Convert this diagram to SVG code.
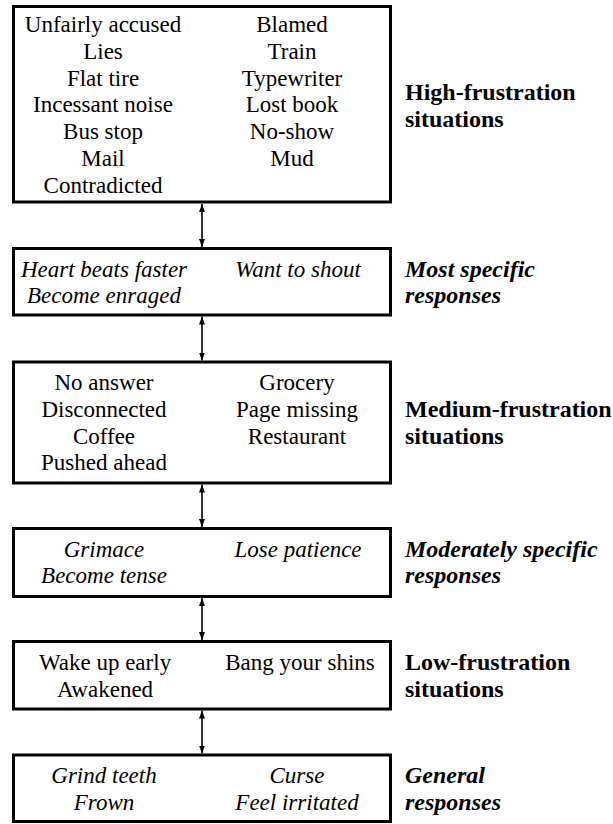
<svg xmlns="http://www.w3.org/2000/svg" width="613" height="824" viewBox="0 0 613 824">
  <defs>
    <marker id="head" markerUnits="userSpaceOnUse" viewBox="0 0 8 6" refX="8" refY="3" markerWidth="8" markerHeight="6" orient="auto-start-reverse">
      <path d="M0,0 L8,3 L0,6 z" fill="#000"/>
    </marker>
  </defs>
  <rect width="613" height="824" fill="#fff"/>

  <g id="high-frustration">
    <rect x="13.5" y="6.5" width="377" height="195.5" fill="#fff" stroke="#000" stroke-width="3"/>
    <g font-size="23" font-family="Liberation Serif" text-anchor="middle">
      <text x="103" y="32">Unfairly accused</text>
      <text x="103" y="58.8">Lies</text>
      <text x="103" y="85.6">Flat tire</text>
      <text x="103" y="112.4">Incessant noise</text>
      <text x="103" y="139.2">Bus stop</text>
      <text x="103" y="166">Mail</text>
      <text x="103" y="192.8">Contradicted</text>
      <text x="292" y="32">Blamed</text>
      <text x="292" y="58.8">Train</text>
      <text x="292" y="85.6">Typewriter</text>
      <text x="292" y="112.4">Lost book</text>
      <text x="292" y="139.2">No-show</text>
      <text x="292" y="166">Mud</text>
    </g>
    <text font-size="24" font-family="Liberation Serif" font-weight="bold" x="405" y="100">High-frustration</text>
    <text font-size="24" font-family="Liberation Serif" font-weight="bold" x="405" y="127">situations</text>
  </g>

  <g id="most-specific">
    <rect x="13.5" y="248.5" width="377" height="66.5" fill="#fff" stroke="#000" stroke-width="3"/>
    <text font-size="23" font-family="Liberation Serif" font-style="italic" text-anchor="middle" x="104" y="277">Heart beats faster</text>
    <text font-size="23" font-family="Liberation Serif" font-style="italic" text-anchor="middle" x="104" y="303">Become enraged</text>
    <text font-size="23" font-family="Liberation Serif" font-style="italic" text-anchor="middle" x="298" y="277">Want to shout</text>
    <text font-size="24" font-family="Liberation Serif" font-style="italic" font-weight="bold" x="405" y="277">Most specific</text>
    <text font-size="24" font-family="Liberation Serif" font-style="italic" font-weight="bold" x="405" y="303">responses</text>
  </g>

  <g id="medium-frustration">
    <rect x="13.5" y="362" width="377" height="121" fill="#fff" stroke="#000" stroke-width="3"/>
    <text font-size="23" font-family="Liberation Serif" text-anchor="middle" x="104" y="390">No answer</text>
    <text font-size="23" font-family="Liberation Serif" text-anchor="middle" x="104" y="417">Disconnected</text>
    <text font-size="23" font-family="Liberation Serif" text-anchor="middle" x="104" y="443.5">Coffee</text>
    <text font-size="23" font-family="Liberation Serif" text-anchor="middle" x="104" y="470">Pushed ahead</text>
    <text font-size="23" font-family="Liberation Serif" text-anchor="middle" x="297" y="390">Grocery</text>
    <text font-size="23" font-family="Liberation Serif" text-anchor="middle" x="297" y="417">Page missing</text>
    <text font-size="23" font-family="Liberation Serif" text-anchor="middle" x="297" y="443.5">Restaurant</text>
    <text font-size="24" font-family="Liberation Serif" font-weight="bold" x="405" y="417">Medium-frustration</text>
    <text font-size="24" font-family="Liberation Serif" font-weight="bold" x="405" y="443.5">situations</text>
  </g>

  <g id="moderately-specific">
    <rect x="13.5" y="528.5" width="377" height="68" fill="#fff" stroke="#000" stroke-width="3"/>
    <text font-size="23" font-family="Liberation Serif" font-style="italic" text-anchor="middle" x="104" y="557">Grimace</text>
    <text font-size="23" font-family="Liberation Serif" font-style="italic" text-anchor="middle" x="104" y="583">Become tense</text>
    <text font-size="23" font-family="Liberation Serif" font-style="italic" text-anchor="middle" x="298" y="557">Lose patience</text>
    <text font-size="24" font-family="Liberation Serif" font-style="italic" font-weight="bold" x="405" y="557">Moderately specific</text>
    <text font-size="24" font-family="Liberation Serif" font-style="italic" font-weight="bold" x="405" y="583">responses</text>
  </g>

  <g id="low-frustration">
    <rect x="13.5" y="641.5" width="377" height="67.5" fill="#fff" stroke="#000" stroke-width="3"/>
    <text font-size="23" font-family="Liberation Serif" text-anchor="middle" x="105" y="670">Wake up early</text>
    <text font-size="23" font-family="Liberation Serif" text-anchor="middle" x="105" y="697">Awakened</text>
    <text font-size="23" font-family="Liberation Serif" text-anchor="middle" x="300" y="670">Bang your shins</text>
    <text font-size="24" font-family="Liberation Serif" font-weight="bold" x="405" y="670">Low-frustration</text>
    <text font-size="24" font-family="Liberation Serif" font-weight="bold" x="405" y="697">situations</text>
  </g>

  <g id="general">
    <rect x="13.5" y="755" width="377" height="66.5" fill="#fff" stroke="#000" stroke-width="3"/>
    <text font-size="23" font-family="Liberation Serif" font-style="italic" text-anchor="middle" x="104" y="783">Grind teeth</text>
    <text font-size="23" font-family="Liberation Serif" font-style="italic" text-anchor="middle" x="104" y="810">Frown</text>
    <text font-size="23" font-family="Liberation Serif" font-style="italic" text-anchor="middle" x="297" y="783">Curse</text>
    <text font-size="23" font-family="Liberation Serif" font-style="italic" text-anchor="middle" x="297" y="810">Feel irritated</text>
    <text font-size="24" font-family="Liberation Serif" font-style="italic" font-weight="bold" x="405" y="783">General</text>
    <text font-size="24" font-family="Liberation Serif" font-style="italic" font-weight="bold" x="405" y="810">responses</text>
  </g>

  <!-- double-headed arrows between consecutive boxes -->
  <g id="connectors" stroke="#000" stroke-width="1.6" fill="none" marker-start="url(#head)" marker-end="url(#head)">
    <line x1="202" y1="204" x2="202" y2="247"/>
    <line x1="202" y1="316.5" x2="202" y2="360.5"/>
    <line x1="202" y1="484.5" x2="202" y2="527"/>
    <line x1="202" y1="598" x2="202" y2="640"/>
    <line x1="202" y1="710.5" x2="202" y2="753.5"/>
  </g>
</svg>
